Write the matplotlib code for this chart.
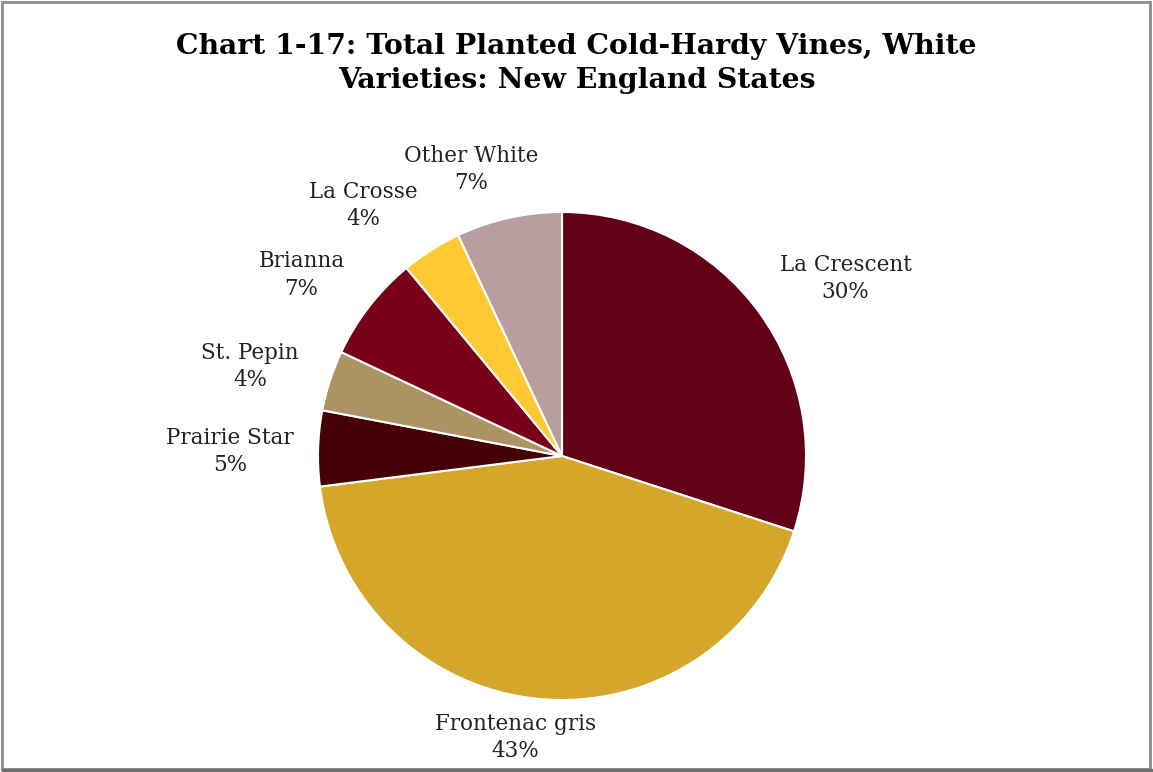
import matplotlib.pyplot as plt
from matplotlib.patches import Rectangle
import numpy as np

varieties = ['La Crescent', 'Frontenac gris', 'Prairie Star', 'St. Pepin',
             'Brianna', 'La Crosse', 'Other White']
shares = [30, 43, 5, 4, 7, 4, 7]
colors = ['#620016', '#D4A62A', '#450006', '#AC9364',
          '#780018', '#FFC933', '#B89E9E']
# how far out each label sits (in pie radii) and a small angular nudge
label_dist = [1.37, 1.17, 1.36, 1.33, 1.30, 1.31, 1.23]
label_nudge = [-4, -4, 1, 2, 3, 6, 5]

W, H = 1153, 772
cx, cy, R = 562, 456, 244

fig = plt.figure(figsize=(W / 100, H / 100), dpi=100)
ax = fig.add_axes([0, 0, 1, 1])

wedges, _ = ax.pie(shares, colors=colors, startangle=90, counterclock=False,
                   radius=1, wedgeprops=dict(edgecolor='white', linewidth=1.5))

# pie() resets the limits, so place the pie afterwards
ax.set_xlim(-cx / R, (W - cx) / R)
ax.set_ylim(-(H - cy) / R, cy / R)
ax.set_aspect('equal')
ax.axis('off')

for w, name, s, d, n in zip(wedges, varieties, shares, label_dist, label_nudge):
    mid = np.deg2rad((w.theta1 + w.theta2) / 2 + n)
    ax.text(d * np.cos(mid), d * np.sin(mid), f'{name}\n{s}%',
            ha='center', va='center', fontsize=15.5, family='DejaVu Serif',
            color='#222222', linespacing=1.3)

fig.text(0.5, 0.918, 'Chart 1-17: Total Planted Cold-Hardy Vines, White\nVarieties: New England States',
         ha='center', va='center', fontsize=20.3, fontweight='bold',
         family='DejaVu Serif', linespacing=1.35)

# frame round the chart area
fig.patches.append(Rectangle((2 / W, 3 / H), (W - 5) / W, (H - 5) / H,
                             transform=fig.transFigure, fill=False,
                             edgecolor='#8c8c8c', linewidth=2))
fig.patches.append(Rectangle((2 / W, 0), (W - 3) / W, 3 / H,
                             transform=fig.transFigure, color='#6e6e6e'))

fig.savefig('out.png', dpi=100)
